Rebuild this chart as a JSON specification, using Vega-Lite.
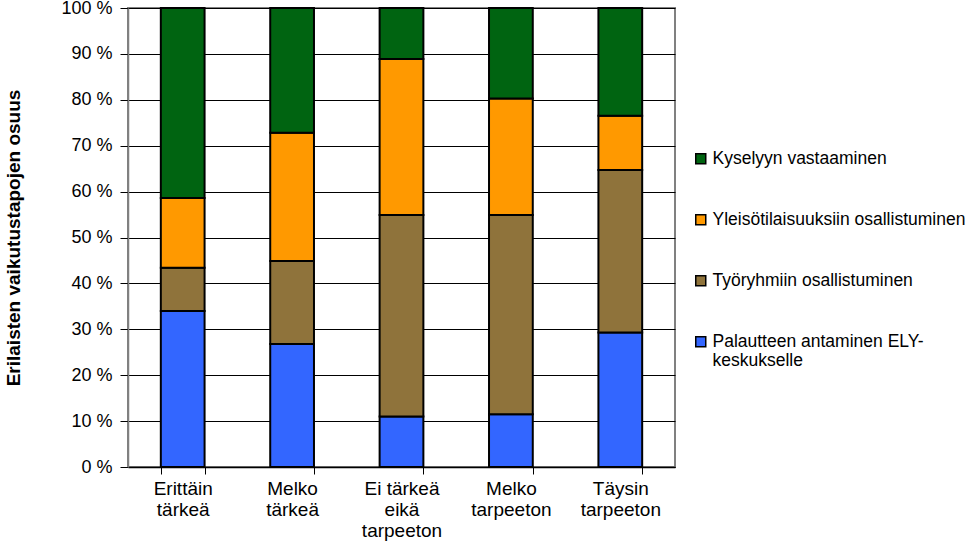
{
  "$schema": "https://vega.github.io/schema/vega-lite/v6.json",
  "autosize": "none",
  "width": 547,
  "height": 459,
  "padding": {"left": 128, "top": 8, "right": 292, "bottom": 83},
  "background": "white",
  "config": {
    "font": "Liberation Sans",
    "view": {"stroke": "#808080", "strokeWidth": 2}
  },
  "data": {
    "values": [
      {"luokka": "Erittäin tärkeä", "tapa": "Palautteen antaminen ELY-keskukselle", "jarjestys": 1, "osuus": 34.0},
      {"luokka": "Erittäin tärkeä", "tapa": "Työryhmiin osallistuminen", "jarjestys": 2, "osuus": 9.4},
      {"luokka": "Erittäin tärkeä", "tapa": "Yleisötilaisuuksiin osallistuminen", "jarjestys": 3, "osuus": 15.2},
      {"luokka": "Erittäin tärkeä", "tapa": "Kyselyyn vastaaminen", "jarjestys": 4, "osuus": 41.4},
      {"luokka": "Melko tärkeä", "tapa": "Palautteen antaminen ELY-keskukselle", "jarjestys": 1, "osuus": 26.8},
      {"luokka": "Melko tärkeä", "tapa": "Työryhmiin osallistuminen", "jarjestys": 2, "osuus": 18.1},
      {"luokka": "Melko tärkeä", "tapa": "Yleisötilaisuuksiin osallistuminen", "jarjestys": 3, "osuus": 27.9},
      {"luokka": "Melko tärkeä", "tapa": "Kyselyyn vastaaminen", "jarjestys": 4, "osuus": 27.2},
      {"luokka": "Ei tärkeä eikä tarpeeton", "tapa": "Palautteen antaminen ELY-keskukselle", "jarjestys": 1, "osuus": 11.0},
      {"luokka": "Ei tärkeä eikä tarpeeton", "tapa": "Työryhmiin osallistuminen", "jarjestys": 2, "osuus": 43.9},
      {"luokka": "Ei tärkeä eikä tarpeeton", "tapa": "Yleisötilaisuuksiin osallistuminen", "jarjestys": 3, "osuus": 34.0},
      {"luokka": "Ei tärkeä eikä tarpeeton", "tapa": "Kyselyyn vastaaminen", "jarjestys": 4, "osuus": 11.1},
      {"luokka": "Melko tarpeeton", "tapa": "Palautteen antaminen ELY-keskukselle", "jarjestys": 1, "osuus": 11.5},
      {"luokka": "Melko tarpeeton", "tapa": "Työryhmiin osallistuminen", "jarjestys": 2, "osuus": 43.4},
      {"luokka": "Melko tarpeeton", "tapa": "Yleisötilaisuuksiin osallistuminen", "jarjestys": 3, "osuus": 25.4},
      {"luokka": "Melko tarpeeton", "tapa": "Kyselyyn vastaaminen", "jarjestys": 4, "osuus": 19.7},
      {"luokka": "Täysin tarpeeton", "tapa": "Palautteen antaminen ELY-keskukselle", "jarjestys": 1, "osuus": 29.3},
      {"luokka": "Täysin tarpeeton", "tapa": "Työryhmiin osallistuminen", "jarjestys": 2, "osuus": 35.4},
      {"luokka": "Täysin tarpeeton", "tapa": "Yleisötilaisuuksiin osallistuminen", "jarjestys": 3, "osuus": 11.8},
      {"luokka": "Täysin tarpeeton", "tapa": "Kyselyyn vastaaminen", "jarjestys": 4, "osuus": 23.5}
    ]
  },
  "mark": {"type": "bar", "stroke": "black", "strokeWidth": 2},
  "encoding": {
    "x": {
      "field": "luokka",
      "type": "nominal",
      "sort": null,
      "scale": {"paddingInner": 0.6, "paddingOuter": 0.3},
      "axis": {
        "title": null,
        "labelAngle": 0,
        "labelFontSize": 19,
        "labelColor": "black",
        "labelLineHeight": 21,
        "labelPadding": 5,
        "labelExpr": "datum.label == 'Ei tärkeä eikä tarpeeton' ? ['Ei tärkeä', 'eikä', 'tarpeeton'] : split(datum.label, ' ')",
        "tickBand": "extent",
        "tickSize": 7,
        "tickColor": "black",
        "tickWidth": 1,
        "domainColor": "black",
        "domainWidth": 1.5,
        "grid": false
      }
    },
    "y": {
      "field": "osuus",
      "type": "quantitative",
      "stack": "normalize",
      "scale": {"domain": [0, 1], "nice": false},
      "axis": {
        "title": "Erilaisten vaikutustapojen osuus",
        "titleFontSize": 19,
        "titleFontWeight": "bold",
        "titleColor": "black",
        "titlePadding": 37,
        "values": [0, 0.1, 0.2, 0.3, 0.4, 0.5, 0.6, 0.7, 0.8, 0.9, 1],
        "labelExpr": "round(datum.value * 100) + ' %'",
        "labelFontSize": 18,
        "labelColor": "black",
        "labelPadding": 8,
        "tickSize": 8,
        "tickColor": "black",
        "domainColor": "#808080",
        "domainWidth": 1.5,
        "grid": true,
        "gridColor": "black",
        "gridWidth": 1,
        "gridOpacity": 1
      }
    },
    "color": {
      "field": "tapa",
      "type": "nominal",
      "scale": {
        "domain": ["Kyselyyn vastaaminen", "Yleisötilaisuuksiin osallistuminen", "Työryhmiin osallistuminen", "Palautteen antaminen ELY-keskukselle"],
        "range": ["#006411", "#FF9900", "#8F733B", "#3366FF"]
      },
      "legend": {
        "title": null,
        "orient": "none",
        "legendX": 564,
        "legendY": 142,
        "gridAlign": "all",
        "symbolType": "square",
        "symbolSize": 100,
        "symbolStrokeColor": "black",
        "symbolStrokeWidth": 1.5,
        "symbolOpacity": 1,
        "labelFontSize": 17.5,
        "labelColor": "black",
        "labelLimit": 400,
        "labelOffset": 3,
        "labelBaseline": "middle",
        "labelLineHeight": 20,
        "rowPadding": 23,
        "labelExpr": "datum.label == 'Palautteen antaminen ELY-keskukselle' ? ['Palautteen antaminen ELY-', 'keskukselle'] : datum.label"
      }
    },
    "order": {"field": "jarjestys", "type": "quantitative"}
  }
}
